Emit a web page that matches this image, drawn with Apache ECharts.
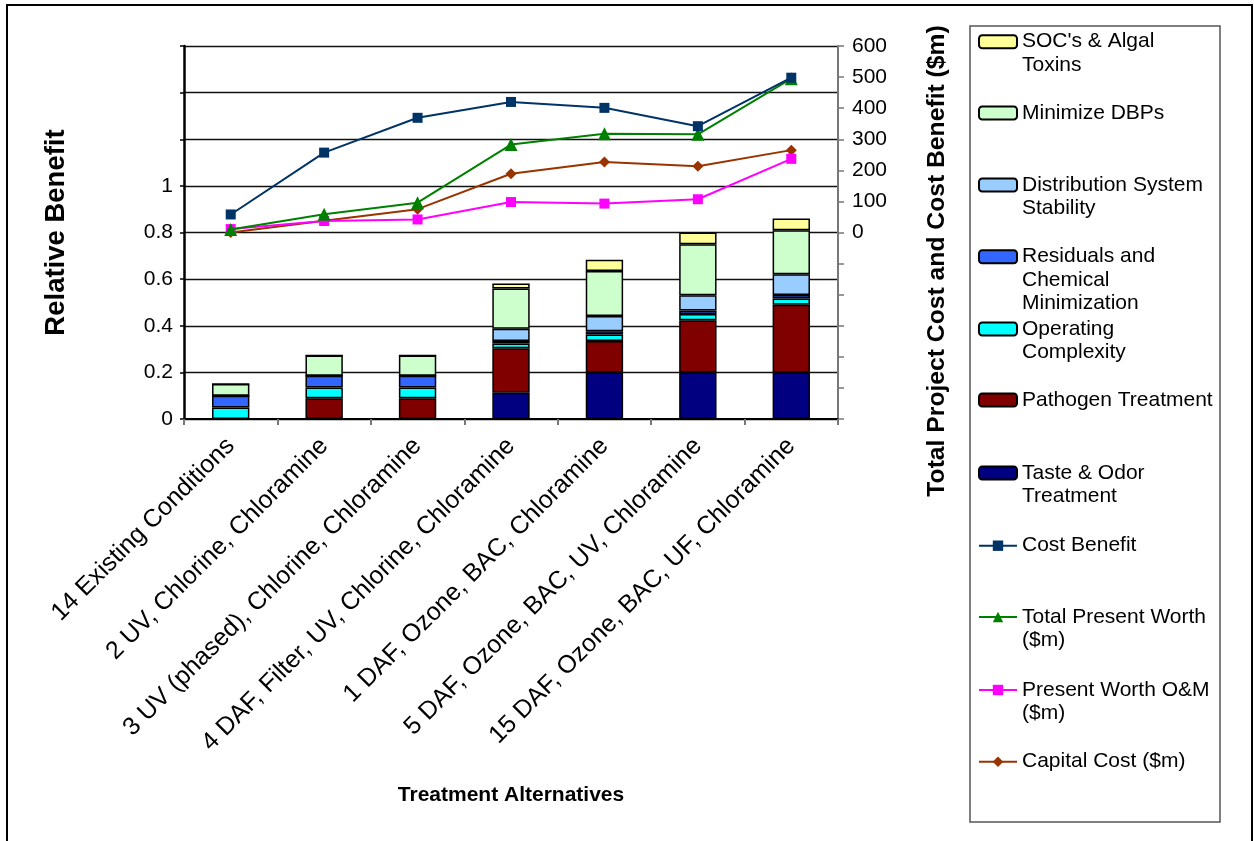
<!DOCTYPE html>
<html>
<head>
<meta charset="utf-8">
<script src="https://cdn.jsdelivr.net/npm/echarts@6/dist/echarts.min.js"></script>
<style>
  html, body { margin: 0; padding: 0; background: #fff; }
  #chart { width: 1254px; height: 841px; }
</style>
</head>
<body>
<div id="chart"></div>
<script>
// Treatment alternatives along the category axis
const categories = [
  '14 Existing Conditions',
  '2 UV, Chlorine, Chloramine',
  '3 UV (phased), Chlorine, Chloramine',
  '4 DAF, Filter, UV, Chlorine, Chloramine',
  '1 DAF, Ozone, BAC, Chloramine',
  '5 DAF, Ozone, BAC, UV, Chloramine',
  '15 DAF, Ozone, BAC, UF, Chloramine'
];

// Relative benefit components (stacked, bottom to top)
const tasteOdor    = [0, 0, 0, 0.113, 0.2, 0.2, 0.2];
const pathogen     = [0, 0.089, 0.089, 0.19, 0.135, 0.224, 0.29];
const operating    = [0.049, 0.046, 0.046, 0.021, 0.028, 0.026, 0.027];
const residuals    = [0.051, 0.051, 0.051, 0.011, 0.013, 0.015, 0.015];
const distribution = [0, 0, 0, 0.052, 0.066, 0.066, 0.089];
const dbps         = [0.05, 0.086, 0.086, 0.173, 0.193, 0.219, 0.189];
const socAlgal     = [0, 0, 0, 0.021, 0.048, 0.05, 0.05];

// Cost lines ($m), right axis
const costBenefit  = [58, 257, 369, 420, 401, 342, 498];
const totalPW      = [10, 59, 96, 283, 318, 316, 495];
const omPW         = [11, 37, 42, 98, 93, 107, 237];
const capitalCost  = [0, 38, 75, 189, 227, 213, 265];

// Left axis labels stop at 1, right axis labels start at 0
const leftLabels  = ['0', '0.2', '0.4', '0.6', '0.8', '1'];
const rightLabels = ['0', '100', '200', '300', '400', '500', '600'];

const FONT = 'Liberation Sans, Arial, sans-serif';

const barStyle = (color) => ({ color: color, borderColor: '#000', borderWidth: 1.5 });

const barSeries = [
  { name: 'Taste & Odor Treatment', data: tasteOdor, color: '#000080' },
  { name: 'Pathogen Treatment', data: pathogen, color: '#800000' },
  { name: 'Operating Complexity', data: operating, color: '#00FFFF' },
  { name: 'Residuals and Chemical Minimization', data: residuals, color: '#3366FF' },
  { name: 'Distribution System Stability', data: distribution, color: '#99CCFF' },
  { name: 'Minimize DBPs', data: dbps, color: '#CCFFCC' },
  { name: "SOC's & Algal Toxins", data: socAlgal, color: '#FFFF99' }
].map(s => ({
  name: s.name,
  type: 'bar',
  stack: 'benefit',
  barWidth: '40%',
  data: s.data,
  itemStyle: barStyle(s.color),
  z: 2
}));

const lineSeries = [
  { name: 'Total Present Worth ($m)', data: totalPW, color: '#008000', symbol: 'triangle', size: 13, z: 5 },
  { name: 'Present Worth O&M ($m)', data: omPW, color: '#FF00FF', symbol: 'rect', size: 10, z: 4 },
  { name: 'Capital Cost ($m)', data: capitalCost, color: '#993300', symbol: 'diamond', size: 11, z: 3 },
  { name: 'Cost Benefit', data: costBenefit, color: '#003366', symbol: 'rect', size: 10, z: 6 }
].map(s => ({
  name: s.name,
  type: 'line',
  yAxisIndex: 1,
  data: s.data,
  symbol: s.symbol,
  symbolSize: s.size,
  showAllSymbol: true,
  lineStyle: { color: s.color, width: 2 },
  itemStyle: { color: s.color },
  z: s.z
}));

// Legend entries: series name, wrapped text, centre of the first text line
const legendEntries = [
  ["SOC's & Algal Toxins", ["SOC's & Algal", 'Toxins'], 41.7],
  ['Minimize DBPs', ['Minimize DBPs'], 113],
  ['Distribution System Stability', ['Distribution System', 'Stability'], 185],
  ['Residuals and Chemical Minimization', ['Residuals and', 'Chemical', 'Minimization'], 256.7],
  ['Operating Complexity', ['Operating', 'Complexity'], 329],
  ['Pathogen Treatment', ['Pathogen Treatment'], 400],
  ['Taste & Odor Treatment', ['Taste & Odor', 'Treatment'], 473],
  ['Cost Benefit', ['Cost Benefit'], 545.7],
  ['Total Present Worth ($m)', ['Total Present Worth', '($m)'], 617],
  ['Present Worth O&M ($m)', ['Present Worth O&M', '($m)'], 690],
  ['Capital Cost ($m)', ['Capital Cost ($m)'], 761.7]
];
const LH = 23.5;
const legends = legendEntries.map(([name, lines, firstY]) => {
  const k = lines.length;
  // pad with blank lines above so the icon sits beside the first line
  const text = new Array(k - 1).fill('').concat(lines).join('\n');
  return {
    data: [name],
    left: 978,
    top: firstY - (2 * k - 1) * LH / 2,
    orient: 'vertical',
    padding: 0,
    itemWidth: 38,
    itemHeight: 13,
    selectedMode: false,
    formatter: () => text,
    textStyle: { fontFamily: FONT, fontSize: 21, color: '#000', lineHeight: LH }
  };
});

const chart = echarts.init(document.getElementById('chart'), null, { renderer: 'canvas' });

chart.setOption({
  backgroundColor: '#fff',
  animation: false,
  grid: { left: 184, top: 46, width: 654, height: 373, containLabel: false },
  legend: legends,
  xAxis: {
    type: 'category',
    data: categories,
    boundaryGap: true,
    name: 'Treatment Alternatives',
    nameLocation: 'middle',
    nameGap: 366,
    nameTextStyle: { fontFamily: FONT, fontSize: 21, fontWeight: 'bold', color: '#000' },
    axisLine: { lineStyle: { color: '#000', width: 2 } },
    axisTick: { show: true, length: 6, alignWithLabel: false, lineStyle: { color: '#777', width: 2 } },
    axisLabel: { rotate: 45, margin: 23, fontFamily: FONT, fontSize: 25, color: '#000', interval: 0 },
    splitLine: { show: false }
  },
  yAxis: [
    {
      type: 'value',
      min: 0,
      max: 1.6,
      interval: 0.2,
      position: 'left',
      name: 'Relative Benefit',
      nameLocation: 'middle',
      nameGap: 114,
      nameTextStyle: { fontFamily: FONT, fontSize: 27.5, fontWeight: 'bold', color: '#000' },
      axisLine: { show: true, lineStyle: { color: '#000', width: 2.5 } },
      axisTick: { show: true, length: 4, lineStyle: { color: '#000', width: 1.5 } },
      axisLabel: {
        margin: 11,
        fontFamily: FONT, fontSize: 21, color: '#000',
        formatter: (v) => {
          const i = Math.round(v / 0.2);
          return i < leftLabels.length ? leftLabels[i] : '';
        }
      },
      splitLine: { show: true, lineStyle: { color: '#111', width: 1.3 } }
    },
    {
      type: 'value',
      min: -600,
      max: 600,
      interval: 100,
      position: 'right',
      axisLine: { show: true, lineStyle: { color: '#777', width: 2 } },
      axisTick: { show: true, length: 6, lineStyle: { color: '#777', width: 1.5 } },
      axisLabel: {
        margin: 14,
        fontFamily: FONT, fontSize: 21, color: '#000',
        formatter: (v) => {
          const i = Math.round(v / 100);
          return i >= 0 ? rightLabels[i] : '';
        }
      },
      splitLine: { show: false }
    }
  ],
  series: barSeries.concat(lineSeries),
  graphic: [
    {
      type: 'rect',
      shape: { x: 7, y: 5, width: 1245, height: 860 },
      style: { fill: 'none', stroke: '#000', lineWidth: 2 },
      silent: true,
      z: -1
    },
    {
      type: 'rect',
      shape: { x: 970, y: 26, width: 250, height: 796 },
      style: { fill: 'none', stroke: '#555', lineWidth: 1.5 },
      silent: true
    },
    {
      type: 'text',
      x: 937,
      y: 261,
      rotation: Math.PI / 2,
      style: {
        text: 'Total Project Cost and Cost Benefit ($m)',
        fontFamily: FONT, fontSize: 24.7, fontWeight: 'bold', fill: '#000',
        align: 'center', verticalAlign: 'middle'
      },
      silent: true
    }
  ]
});
</script>
</body>
</html>
